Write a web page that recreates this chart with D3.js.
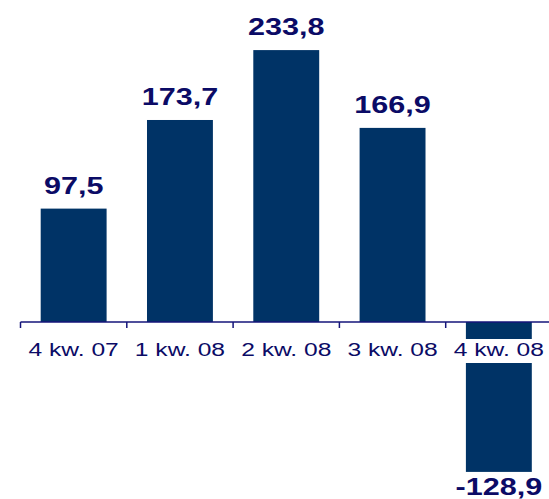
<!DOCTYPE html>
<html>
<head>
<meta charset="utf-8">
<script src="https://cdn.jsdelivr.net/npm/d3@7"></script>
<style>
  html, body { margin: 0; padding: 0; background: #ffffff; }
  svg { display: block; }
</style>
</head>
<body>
<script>
// Quarterly results
const categories = ["4 kw. 07", "1 kw. 08", "2 kw. 08", "3 kw. 08", "4 kw. 08"];
const values = [97.5, 173.7, 233.8, 166.9, -128.9];
const valueLabels = ["97,5", "173,7", "233,8", "166,9", "-128,9"];
const yDomain = [-130, 235];

const W = 549, H = 499;
const barColor = "#003366";
const textColor = "#0b0b66";
const axisColor = "#15157a";
const stretch = 1.33; // wide lettering

const svg = d3.select("body").append("svg")
  .attr("width", W).attr("height", H);

const x = d3.scaleBand()
  .domain(categories)
  .range([20.5, 552])
  .paddingInner(0.38)
  .paddingOuter(0.19);

const y = d3.scaleLinear()
  .domain(yDomain)
  .range([322 + 130 * 1.163, 322 - 235 * 1.163]);

const data = categories.map((c, i) => ({ c, v: values[i], label: valueLabels[i] }));

// Bars
svg.append("g").selectAll("rect")
  .data(data)
  .join("rect")
  .attr("x", d => x(d.c))
  .attr("width", x.bandwidth())
  .attr("y", d => y(Math.max(0, d.v)))
  .attr("height", d => Math.abs(y(d.v) - y(0)))
  .attr("fill", barColor);

// Category axis: baseline with ticks at category boundaries
const step = x.step();
const axisY = y(0);
const axis = svg.append("g");
axis.append("line")
  .attr("x1", x(categories[0]) - step * 0.19).attr("x2", W)
  .attr("y1", axisY).attr("y2", axisY)
  .attr("stroke", axisColor).attr("stroke-width", 1.5);
axis.selectAll("line.tick")
  .data(categories)
  .join("line")
  .attr("class", "tick")
  .attr("x1", d => x(d) - step * 0.19)
  .attr("x2", d => x(d) - step * 0.19)
  .attr("y1", axisY).attr("y2", axisY + 6)
  .attr("stroke", axisColor).attr("stroke-width", 1.5);

// Category labels with a white backing so they read over the negative bar
const labelY = axisY + 34;
const catG = axis.selectAll("g.cat")
  .data(categories)
  .join("g")
  .attr("class", "cat")
  .attr("transform", d => `translate(${x(d) + x.bandwidth() / 2},${labelY}) scale(${stretch},1)`);
catG.each(function(d, i) {
  const g = d3.select(this);
  const t = g.append("text")
    .attr("text-anchor", "middle")
    .attr("font-family", "Liberation Sans, Arial, sans-serif")
    .attr("font-size", 18.5)
    .attr("fill", textColor)
    .text(d);
  if (values[i] < 0) {
    const bb = t.node().getBBox();
    g.insert("rect", "text")
      .attr("x", bb.x - 2).attr("width", bb.width + 4)
      .attr("y", -17).attr("height", 24)
      .attr("fill", "#ffffff");
  }
});

// Value labels
svg.append("g").selectAll("text")
  .data(data)
  .join("text")
  .attr("transform", d => {
    const cx = x(d.c) + x.bandwidth() / 2;
    const ty = d.v >= 0 ? y(d.v) - 15 : y(d.v) + 23;
    return `translate(${cx},${ty}) scale(${stretch},1)`;
  })
  .attr("text-anchor", "middle")
  .attr("font-family", "Liberation Sans, Arial, sans-serif")
  .attr("font-weight", "bold")
  .attr("font-size", 23)
  .attr("fill", textColor)
  .text(d => d.label);
</script>
</body>
</html>
